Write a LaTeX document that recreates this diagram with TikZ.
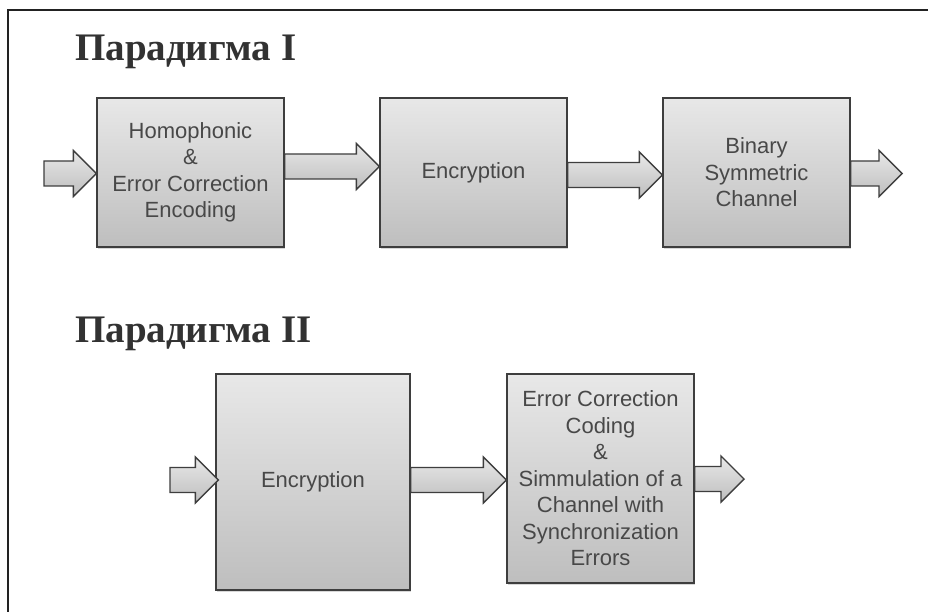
\documentclass[tikz,border=0pt]{standalone}
\usepackage{fontspec}
\setmainfont{Liberation Serif}
\newfontfamily\boxfont{Liberation Sans}
\usetikzlibrary{calc,shadows}

\definecolor{frameline}{RGB}{34,34,34}
\definecolor{edgegray}{RGB}{62,62,62}
\definecolor{filltop}{RGB}{232,232,232}
\definecolor{fillbottom}{RGB}{190,190,190}
\definecolor{labelgray}{RGB}{72,72,72}
\definecolor{titlegray}{RGB}{50,50,50}

% block arrow from a tail point to the x position of a tip point
\newcommand{\blockarrow}[2]{%
  \path[arrowbody] let \p1=#1, \p2=#2 in
    (\x1,\y1+12.5pt) -- (\x2-23pt,\y1+12.5pt) -- (\x2-23pt,\y1+23pt) --
    (\x2,\y1) -- (\x2-23pt,\y1-23pt) -- (\x2-23pt,\y1-12.5pt) --
    (\x1,\y1-12.5pt) -- cycle;}

\tikzset{
  stagebox/.style={draw=edgegray, line width=1.4pt, top color=filltop,
    bottom color=fillbottom, align=center, inner sep=0pt,
    font=\boxfont\fontsize{22}{26.5}\selectfont, text=labelgray,
    drop shadow={shadow xshift=1.2pt, shadow yshift=-2pt, opacity=0.25, fill=black!60}},
  arrowbody/.style={draw=edgegray, line width=1.4pt, line join=miter,
    top color=filltop, bottom color=fillbottom},
  heading/.style={anchor=base west, inner sep=0pt, text=titlegray,
    font=\bfseries\fontsize{39}{42}\selectfont},
}

\begin{document}
\begin{tikzpicture}[x=1pt, y=-1pt]
\useasboundingbox (0,0) rectangle (928,612);
\fill[white] (0,0) rectangle (928,612);

% frame lines on the top and left
\draw[frameline, line width=1.5pt] (8,612) -- (8,10) -- (928,10);

% headings
\node[heading] (t1) at (75,61) {Парадигма I};
\node[heading] (t2) at (75,342) {Парадигма II};

% first chain
\node[stagebox, minimum width=187pt, minimum height=149pt] (A) at (190.5,172.5)
  {Homophonic\\\&\\Error Correction\\Encoding};
\node[stagebox, minimum width=187pt, minimum height=149pt] (B) at (473.5,172.5)
  {Encryption};
\node[stagebox, minimum width=187pt, minimum height=149pt] (C) at (756.5,172.5)
  {Binary\\Symmetric\\Channel};

% second chain
\node[stagebox, minimum width=194pt, minimum height=216pt] (D) at (313,482)
  {Encryption};
\node[stagebox, minimum width=187pt, minimum height=209pt] (E) at (600.5,478.5)
  {Error Correction\\Coding\\\&\\Simmulation of a\\Channel with\\Synchronization\\Errors};

% free ends of the outer arrows
\coordinate (inA) at (44,173.5);
\coordinate (outC) at (902,173.5);
\coordinate (inD) at (170,480);
\coordinate (outE) at (744,479);

% arrows of the first chain
\blockarrow{(inA)}{(A.west)}
\blockarrow{($(A.east)+(0,-6)$)}{(B.west)}
\blockarrow{($(B.east)+(0,2.5)$)}{(C.west)}
\blockarrow{($(C.east)+(0,1)$)}{(outC)}

% arrows of the second chain
\blockarrow{(inD)}{($(D.west)+(3,0)$)}
\blockarrow{($(D.east)+(0,-2)$)}{(E.west)}
\blockarrow{($(E.east)+(0,0.5)$)}{(outE)}
\end{tikzpicture}
\end{document}
